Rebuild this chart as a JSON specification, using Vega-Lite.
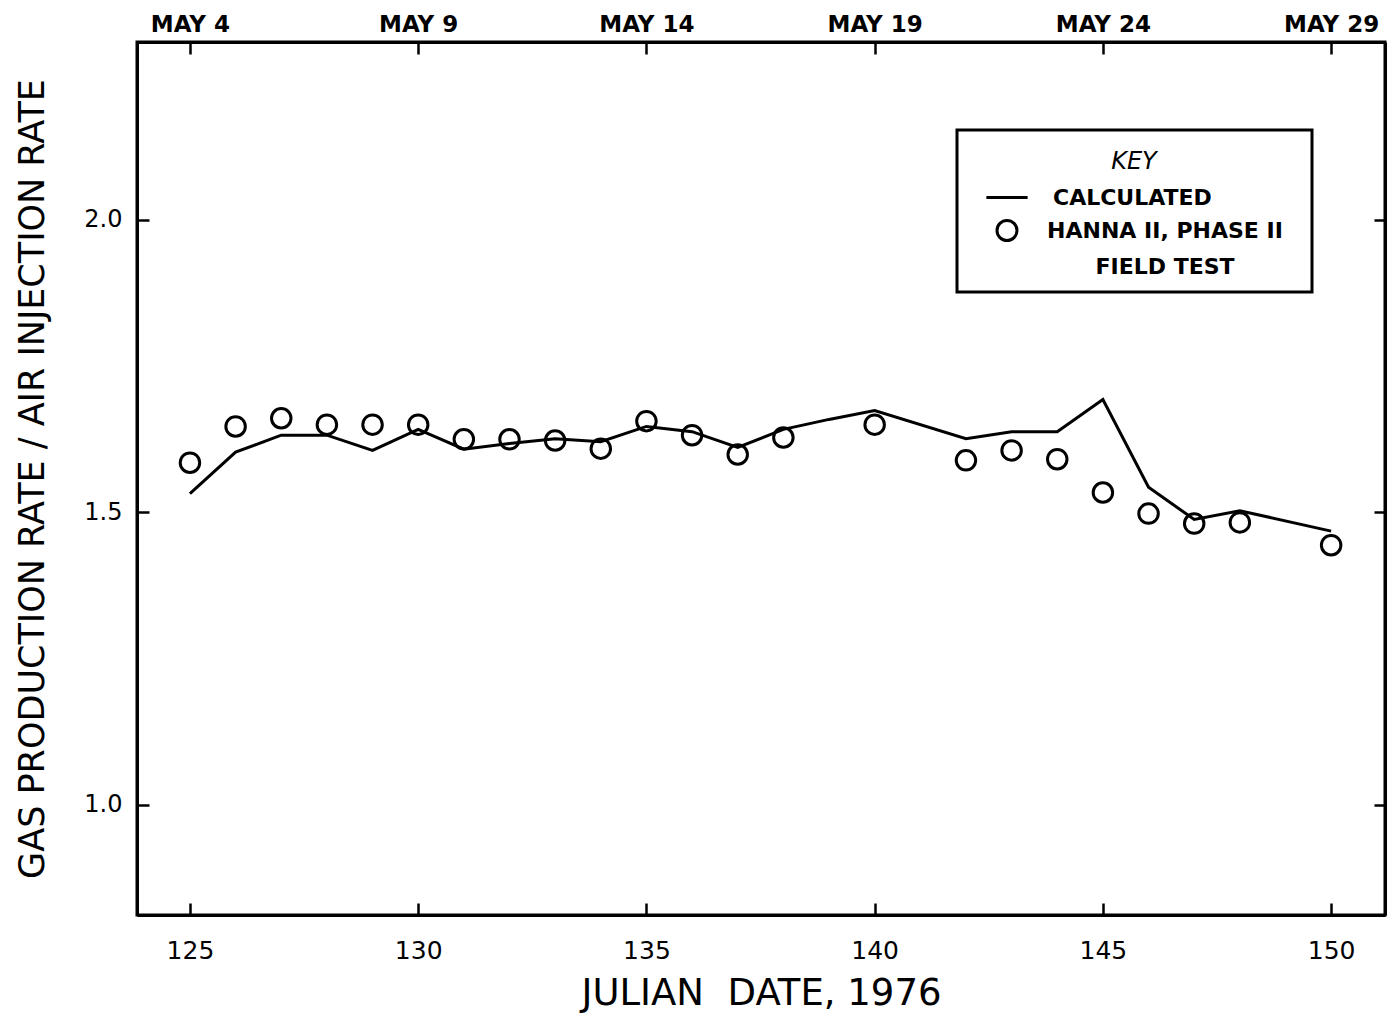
{
  "$schema": "https://vega.github.io/schema/vega-lite/v6.json",
  "width": 1248,
  "height": 873,
  "autosize": {"type": "none"},
  "padding": {"left": 137, "top": 42, "right": 6, "bottom": 101},
  "background": "white",
  "config": {
    "view": {"stroke": "black", "strokeWidth": 3},
    "font": "DejaVu Sans",
    "axis": {
      "domainColor": "black", "domainWidth": 3, "tickColor": "black", "tickWidth": 2.5,
      "labelColor": "black", "titleColor": "black", "grid": false
    }
  },
  "datasets": {
    "calc": [
      {"day": 125, "ratio": 1.532}, {"day": 126, "ratio": 1.603}, {"day": 127, "ratio": 1.632},
      {"day": 128, "ratio": 1.632}, {"day": 129, "ratio": 1.606}, {"day": 130, "ratio": 1.642},
      {"day": 131, "ratio": 1.608}, {"day": 132, "ratio": 1.618}, {"day": 133, "ratio": 1.626},
      {"day": 134, "ratio": 1.621}, {"day": 135, "ratio": 1.647}, {"day": 136, "ratio": 1.638},
      {"day": 137, "ratio": 1.611}, {"day": 138, "ratio": 1.642}, {"day": 139, "ratio": 1.659},
      {"day": 140, "ratio": 1.674}, {"day": 142, "ratio": 1.626}, {"day": 143, "ratio": 1.638},
      {"day": 144, "ratio": 1.638}, {"day": 145, "ratio": 1.693}, {"day": 146, "ratio": 1.543},
      {"day": 147, "ratio": 1.488}, {"day": 148, "ratio": 1.503}, {"day": 150, "ratio": 1.468}
    ],
    "obs": [
      {"day": 125, "ratio": 1.585}, {"day": 126, "ratio": 1.647}, {"day": 127, "ratio": 1.661},
      {"day": 128, "ratio": 1.650}, {"day": 129, "ratio": 1.650}, {"day": 130, "ratio": 1.650},
      {"day": 131, "ratio": 1.625}, {"day": 132, "ratio": 1.625}, {"day": 133, "ratio": 1.623},
      {"day": 134, "ratio": 1.609}, {"day": 135, "ratio": 1.656}, {"day": 136, "ratio": 1.632},
      {"day": 137, "ratio": 1.599}, {"day": 138, "ratio": 1.628}, {"day": 140, "ratio": 1.650},
      {"day": 142, "ratio": 1.589}, {"day": 143, "ratio": 1.606}, {"day": 144, "ratio": 1.591},
      {"day": 145, "ratio": 1.534}, {"day": 146, "ratio": 1.498}, {"day": 147, "ratio": 1.481},
      {"day": 148, "ratio": 1.483}, {"day": 150, "ratio": 1.444}
    ]
  },
  "layer": [
    {
      "data": {"name": "calc"},
      "mark": {"type": "line", "strokeWidth": 3},
      "encoding": {
        "x": {
          "field": "day", "type": "quantitative",
          "scale": {"domain": [123.84, 151.18], "nice": false, "zero": false},
          "axis": {
            "orient": "bottom", "values": [125, 130, 135, 140, 145, 150],
            "title": "JULIAN\u00a0\u00a0DATE, 1976", "titleFontSize": 37, "titleFontWeight": "normal",
            "titlePadding": 12, "labelFontSize": 25, "labelPadding": 35, "tickSize": -12
          }
        },
        "y": {
          "field": "ratio", "type": "quantitative",
          "scale": {"domain": [0.812, 2.304], "nice": false, "zero": false},
          "axis": {
            "orient": "left", "values": [1.0, 1.5, 2.0], "format": ".1f",
            "title": "GAS PRODUCTION RATE / AIR INJECTION RATE", "titleFontSize": 35,
            "titleFontWeight": "normal", "titlePadding": 33, "labelFontSize": 24,
            "labelPadding": 27, "tickSize": -12
          }
        },
        "color": {
          "datum": "CALCULATED", "type": "nominal",
          "scale": {"domain": ["CALCULATED", "HANNA II, PHASE II"], "range": ["black", "black"]},
          "legend": {
            "orient": "none", "legendX": 820, "legendY": 88, "direction": "vertical",
            "title": "\u2800\u2800\u2800\u2800\u2800\u2800\u2800\u2800KEY\u2800\u2800\u2800\u2800\u2800\u2800\u2800\u2800",
            "titleFontSize": 24, "titleFontStyle": "italic", "titleFontWeight": "normal",
            "titleAnchor": "middle", "titlePadding": 18, "titleLimit": 500,
            "labelFontSize": 22, "labelFontWeight": "bold", "labelOffset": 44, "labelLimit": 400,
            "labelExpr": "datum.label === 'HANNA II, PHASE II' ? ['HANNA II, PHASE II', 'FIELD TEST'] : datum.label",
            "strokeColor": "black", "padding": 14, "rowPadding": 5,
            "fillColor": "white",
            "encode": {
              "legend": {"update": {"strokeWidth": {"value": 3}}},
              "title": {"update": {"dy": {"value": 6}}},
              "labels": {
                "update": {
                  "lineHeight": {"value": 36},
                  "align": {"signal": "datum.value === 'CALCULATED' ? 'left' : 'center'"},
                  "dx": {"signal": "datum.value === 'CALCULATED' ? 0 : 112"}
                }
              },
              "symbols": {
                "update": {
                  "shape": {"signal": "datum.value === 'CALCULATED' ? 'stroke' : 'circle'"},
                  "size": {"signal": "datum.value === 'CALCULATED' ? 1700 : 400"},
                  "x": {"value": 21},
                  "strokeWidth": {"value": 3},
                  "stroke": {"value": "black"},
                  "fill": {"value": "transparent"}
                }
              }
            }
          }
        }
      }
    },
    {
      "data": {"name": "obs"},
      "mark": {"type": "point", "filled": false, "size": 380, "strokeWidth": 3, "opacity": 1},
      "encoding": {
        "x": {
          "field": "day", "type": "quantitative",
          "axis": {
            "orient": "top", "values": [125, 130, 135, 140, 145, 150], "title": null,
            "labelExpr": "'MAY ' + (datum.value - 121)", "labelFontSize": 23,
            "labelFontWeight": "bold", "labelPadding": 18, "tickSize": -12
          }
        },
        "y": {
          "field": "ratio", "type": "quantitative",
          "axis": {"orient": "right", "values": [1.0, 1.5, 2.0], "labels": false, "title": null, "tickSize": -11}
        },
        "color": {"datum": "HANNA II, PHASE II", "type": "nominal"}
      }
    }
  ],
  "resolve": {"axis": {"x": "independent", "y": "independent"}}
}
